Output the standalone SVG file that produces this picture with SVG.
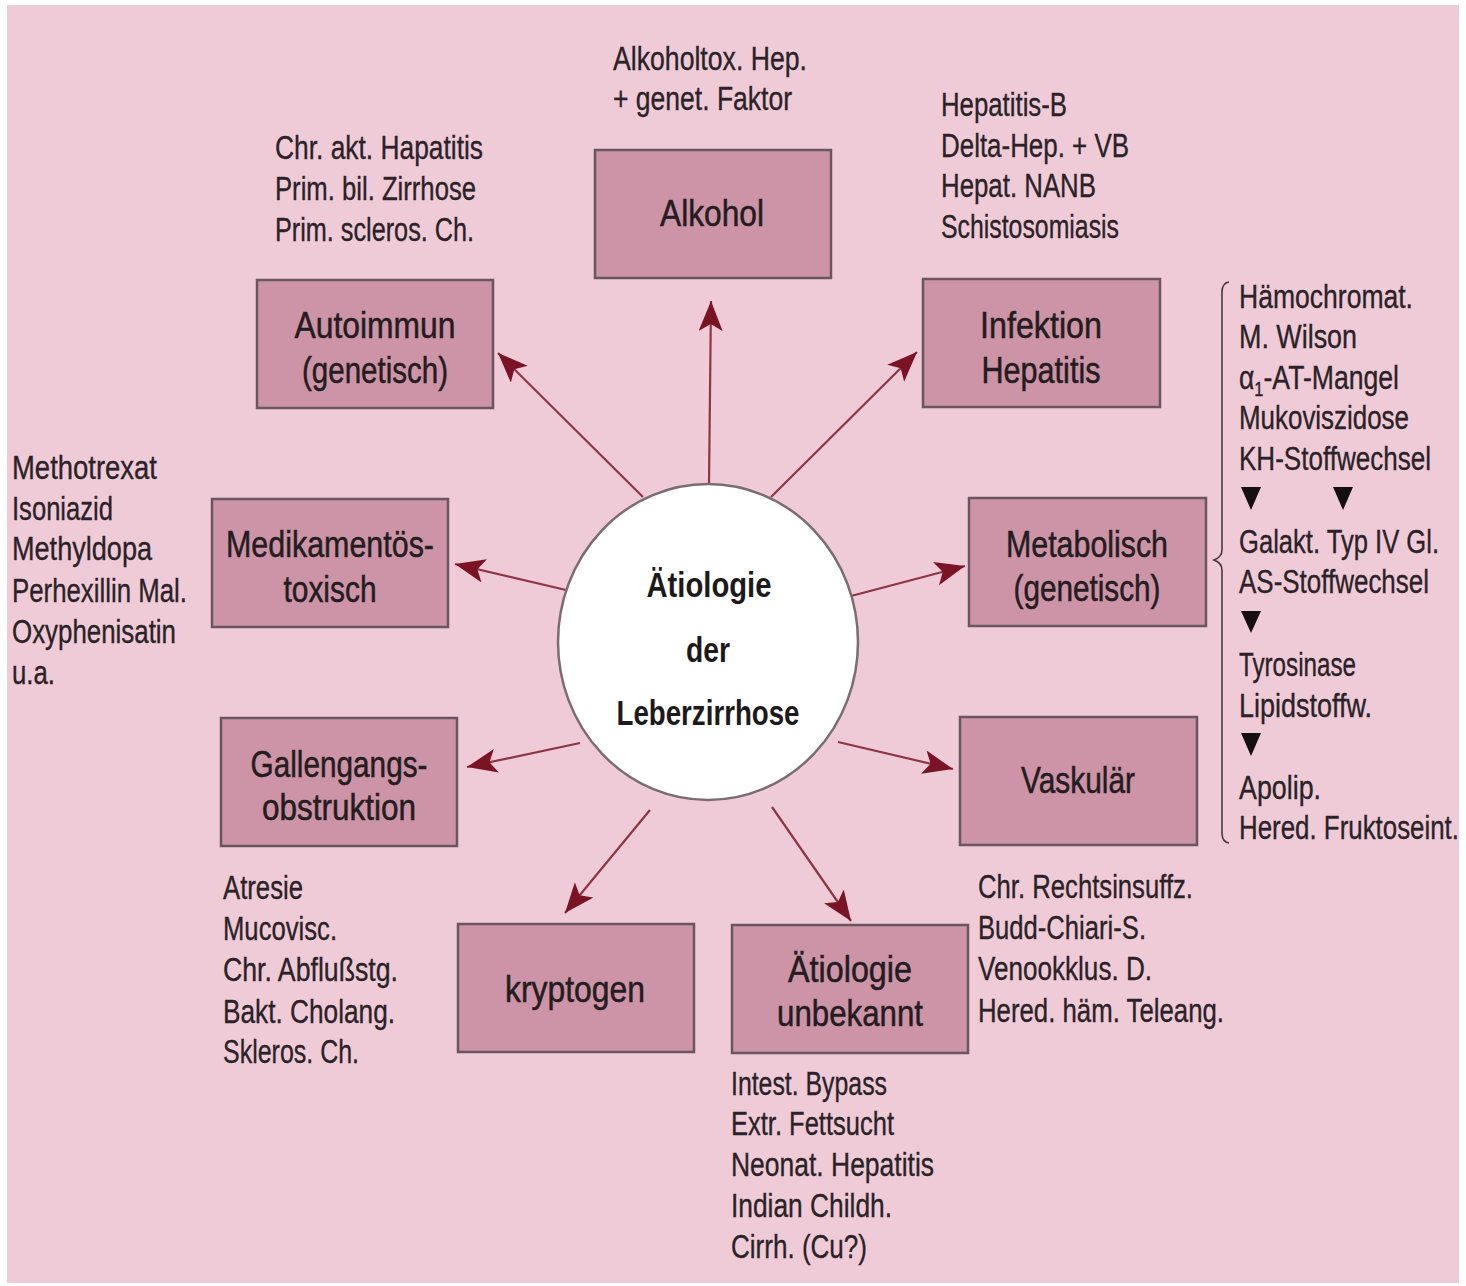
<svg xmlns="http://www.w3.org/2000/svg" width="1466" height="1286" viewBox="0 0 1466 1286">
  <style>
    .t { font-family: "Liberation Sans", Arial, sans-serif; font-size: 34px; fill: #2a2226; stroke: #2a2226; stroke-width: 0.35; }
    .lbl { font-family: "Liberation Sans", Arial, sans-serif; font-size: 36px; fill: #241c20; stroke: #241c20; stroke-width: 0.5; text-anchor: middle; }
    .ctr { font-family: "Liberation Sans", Arial, sans-serif; font-size: 35px; font-weight: bold; fill: #1e1a1c; text-anchor: middle; }
    .box { fill: #cc94a6; stroke: #6a565e; stroke-width: 2.5; }
    .arr { stroke: #8e3444; stroke-width: 2.2; fill: none; marker-end: url(#head); }
    .tri { fill: #141012; }
  </style>
  <defs>
    <marker id="head" markerUnits="userSpaceOnUse" markerWidth="40" markerHeight="30" refX="30" refY="12" orient="auto" viewBox="0 0 40 30">
      <path d="M30,12 L0,0 L7,12 L0,24 Z" fill="#7a1424"/>
    </marker>
  </defs>

  <!-- page -->
  <rect x="0" y="0" width="1466" height="1286" fill="#ffffff"/>
  <rect x="7" y="5" width="1452" height="1278" fill="#efcbd8"/>

  <!-- connectors: spokes from the central circle -->
  <g id="connectors">
    <line class="arr" x1="709" y1="484" x2="711" y2="301"/>
    <line class="arr" x1="643" y1="497" x2="498" y2="353"/>
    <line class="arr" x1="771" y1="497" x2="917" y2="352"/>
    <line class="arr" x1="566" y1="590" x2="455" y2="564"/>
    <line class="arr" x1="851" y1="596" x2="965" y2="566"/>
    <line class="arr" x1="580" y1="743" x2="467" y2="767"/>
    <line class="arr" x1="838" y1="742" x2="953" y2="769"/>
    <line class="arr" x1="650" y1="810" x2="565" y2="913"/>
    <line class="arr" x1="772" y1="807" x2="851" y2="921"/>
  </g>

  <!-- central circle -->
  <g id="center">
    <ellipse cx="708" cy="642" rx="150" ry="158" fill="#ffffff" stroke="#7a6c72" stroke-width="2.5"/>
    <text class="ctr" x="709" y="597" textLength="125" lengthAdjust="spacingAndGlyphs">Ätiologie</text>
    <text class="ctr" x="708" y="662" textLength="44" lengthAdjust="spacingAndGlyphs">der</text>
    <text class="ctr" x="708" y="725" textLength="183" lengthAdjust="spacingAndGlyphs">Leberzirrhose</text>
  </g>

  <!-- category nodes -->
  <g id="node-alkohol">
    <rect class="box" x="595" y="150" width="236" height="128"/>
    <text class="lbl" x="712" y="226" textLength="104" lengthAdjust="spacingAndGlyphs">Alkohol</text>
  </g>
  <g id="node-autoimmun">
    <rect class="box" x="257" y="280" width="236" height="128"/>
    <text class="lbl" x="375" y="338" textLength="161" lengthAdjust="spacingAndGlyphs">Autoimmun</text>
    <text class="lbl" x="375" y="383" textLength="146" lengthAdjust="spacingAndGlyphs">(genetisch)</text>
  </g>
  <g id="node-infektion">
    <rect class="box" x="923" y="279" width="237" height="128"/>
    <text class="lbl" x="1041" y="338" textLength="122" lengthAdjust="spacingAndGlyphs">Infektion</text>
    <text class="lbl" x="1041" y="383" textLength="119" lengthAdjust="spacingAndGlyphs">Hepatitis</text>
  </g>
  <g id="node-medikamentoes">
    <rect class="box" x="212" y="499" width="236" height="128"/>
    <text class="lbl" x="330" y="557" textLength="208" lengthAdjust="spacingAndGlyphs">Medikamentös-</text>
    <text class="lbl" x="330" y="602" textLength="93" lengthAdjust="spacingAndGlyphs">toxisch</text>
  </g>
  <g id="node-metabolisch">
    <rect class="box" x="969" y="498" width="237" height="128"/>
    <text class="lbl" x="1087" y="557" textLength="162" lengthAdjust="spacingAndGlyphs">Metabolisch</text>
    <text class="lbl" x="1087" y="601" textLength="147" lengthAdjust="spacingAndGlyphs">(genetisch)</text>
  </g>
  <g id="node-gallengang">
    <rect class="box" x="221" y="718" width="236" height="128"/>
    <text class="lbl" x="339" y="777" textLength="177" lengthAdjust="spacingAndGlyphs">Gallengangs-</text>
    <text class="lbl" x="339" y="820" textLength="154" lengthAdjust="spacingAndGlyphs">obstruktion</text>
  </g>
  <g id="node-vaskulaer">
    <rect class="box" x="960" y="717" width="237" height="128"/>
    <text class="lbl" x="1078" y="793" textLength="114" lengthAdjust="spacingAndGlyphs">Vaskulär</text>
  </g>
  <g id="node-kryptogen">
    <rect class="box" x="458" y="924" width="236" height="128"/>
    <text class="lbl" x="575" y="1002" textLength="140" lengthAdjust="spacingAndGlyphs">kryptogen</text>
  </g>
  <g id="node-unbekannt">
    <rect class="box" x="732" y="925" width="236" height="128"/>
    <text class="lbl" x="850" y="982" textLength="124" lengthAdjust="spacingAndGlyphs">Ätiologie</text>
    <text class="lbl" x="850" y="1026" textLength="146" lengthAdjust="spacingAndGlyphs">unbekannt</text>
  </g>

  <!-- annotation lists -->
  <g id="notes-alkohol">
    <text class="t" x="613" y="70" textLength="194" lengthAdjust="spacingAndGlyphs">Alkoholtox. Hep.</text>
    <text class="t" x="613" y="110" textLength="179" lengthAdjust="spacingAndGlyphs">+ genet. Faktor</text>
  </g>
  <g id="notes-autoimmun">
    <text class="t" x="275" y="159" textLength="208" lengthAdjust="spacingAndGlyphs">Chr. akt. Hapatitis</text>
    <text class="t" x="275" y="200" textLength="201" lengthAdjust="spacingAndGlyphs">Prim. bil. Zirrhose</text>
    <text class="t" x="275" y="241" textLength="199" lengthAdjust="spacingAndGlyphs">Prim. scleros. Ch.</text>
  </g>
  <g id="notes-infektion">
    <text class="t" x="941" y="116" textLength="126" lengthAdjust="spacingAndGlyphs">Hepatitis-B</text>
    <text class="t" x="941" y="157" textLength="188" lengthAdjust="spacingAndGlyphs">Delta-Hep. + VB</text>
    <text class="t" x="941" y="197" textLength="155" lengthAdjust="spacingAndGlyphs">Hepat. NANB</text>
    <text class="t" x="941" y="238" textLength="178" lengthAdjust="spacingAndGlyphs">Schistosomiasis</text>
  </g>
  <g id="notes-metabolisch">
    <path d="M1229,282 Q1222,283 1222,292 L1222,550 Q1222,557 1214,560 Q1222,563 1222,570 L1222,833 Q1222,842 1229,843" fill="none" stroke="#4a3a40" stroke-width="1.6"/>
    <text class="t" x="1239" y="308" textLength="174" lengthAdjust="spacingAndGlyphs">Hämochromat.</text>
    <text class="t" x="1239" y="348" textLength="118" lengthAdjust="spacingAndGlyphs">M. Wilson</text>
    <text class="t" x="1239" y="389" textLength="160" lengthAdjust="spacingAndGlyphs">α<tspan font-size="21" dy="7">1</tspan><tspan dy="-7">-AT-Mangel</tspan></text>
    <text class="t" x="1239" y="429" textLength="170" lengthAdjust="spacingAndGlyphs">Mukoviszidose</text>
    <text class="t" x="1239" y="470" textLength="192" lengthAdjust="spacingAndGlyphs">KH-Stoffwechsel</text>
    <path class="tri" d="M1241,487 L1261,487 L1251,510 Z"/>
    <path class="tri" d="M1333,487 L1353,487 L1343,510 Z"/>
    <text class="t" x="1239" y="553" textLength="200" lengthAdjust="spacingAndGlyphs">Galakt. Typ IV Gl.</text>
    <text class="t" x="1239" y="593" textLength="190" lengthAdjust="spacingAndGlyphs">AS-Stoffwechsel</text>
    <path class="tri" d="M1241,611 L1261,611 L1251,633 Z"/>
    <text class="t" x="1239" y="676" textLength="117" lengthAdjust="spacingAndGlyphs">Tyrosinase</text>
    <text class="t" x="1239" y="717" textLength="133" lengthAdjust="spacingAndGlyphs">Lipidstoffw.</text>
    <path class="tri" d="M1241,733 L1261,733 L1251,756 Z"/>
    <text class="t" x="1239" y="799" textLength="82" lengthAdjust="spacingAndGlyphs">Apolip.</text>
    <text class="t" x="1239" y="839" textLength="220" lengthAdjust="spacingAndGlyphs">Hered. Fruktoseint.</text>
  </g>
  <g id="notes-medikamentoes">
    <text class="t" x="12" y="479" textLength="145" lengthAdjust="spacingAndGlyphs">Methotrexat</text>
    <text class="t" x="12" y="520" textLength="101" lengthAdjust="spacingAndGlyphs">Isoniazid</text>
    <text class="t" x="12" y="560" textLength="140" lengthAdjust="spacingAndGlyphs">Methyldopa</text>
    <text class="t" x="12" y="602" textLength="175" lengthAdjust="spacingAndGlyphs">Perhexillin Mal.</text>
    <text class="t" x="12" y="643" textLength="164" lengthAdjust="spacingAndGlyphs">Oxyphenisatin</text>
    <text class="t" x="12" y="684" textLength="43" lengthAdjust="spacingAndGlyphs">u.a.</text>
  </g>
  <g id="notes-gallengang">
    <text class="t" x="223" y="899" textLength="80" lengthAdjust="spacingAndGlyphs">Atresie</text>
    <text class="t" x="223" y="940" textLength="114" lengthAdjust="spacingAndGlyphs">Mucovisc.</text>
    <text class="t" x="223" y="981" textLength="175" lengthAdjust="spacingAndGlyphs">Chr. Abflußstg.</text>
    <text class="t" x="223" y="1023" textLength="172" lengthAdjust="spacingAndGlyphs">Bakt. Cholang.</text>
    <text class="t" x="223" y="1063" textLength="136" lengthAdjust="spacingAndGlyphs">Skleros. Ch.</text>
  </g>
  <g id="notes-vaskulaer">
    <text class="t" x="978" y="898" textLength="215" lengthAdjust="spacingAndGlyphs">Chr. Rechtsinsuffz.</text>
    <text class="t" x="978" y="939" textLength="168" lengthAdjust="spacingAndGlyphs">Budd-Chiari-S.</text>
    <text class="t" x="978" y="980" textLength="174" lengthAdjust="spacingAndGlyphs">Venookklus. D.</text>
    <text class="t" x="978" y="1022" textLength="246" lengthAdjust="spacingAndGlyphs">Hered. häm. Teleang.</text>
  </g>
  <g id="notes-unbekannt">
    <text class="t" x="731" y="1095" textLength="156" lengthAdjust="spacingAndGlyphs">Intest. Bypass</text>
    <text class="t" x="731" y="1135" textLength="163" lengthAdjust="spacingAndGlyphs">Extr. Fettsucht</text>
    <text class="t" x="731" y="1176" textLength="203" lengthAdjust="spacingAndGlyphs">Neonat. Hepatitis</text>
    <text class="t" x="731" y="1217" textLength="161" lengthAdjust="spacingAndGlyphs">Indian Childh.</text>
    <text class="t" x="731" y="1258" textLength="136" lengthAdjust="spacingAndGlyphs">Cirrh. (Cu?)</text>
  </g>
</svg>
